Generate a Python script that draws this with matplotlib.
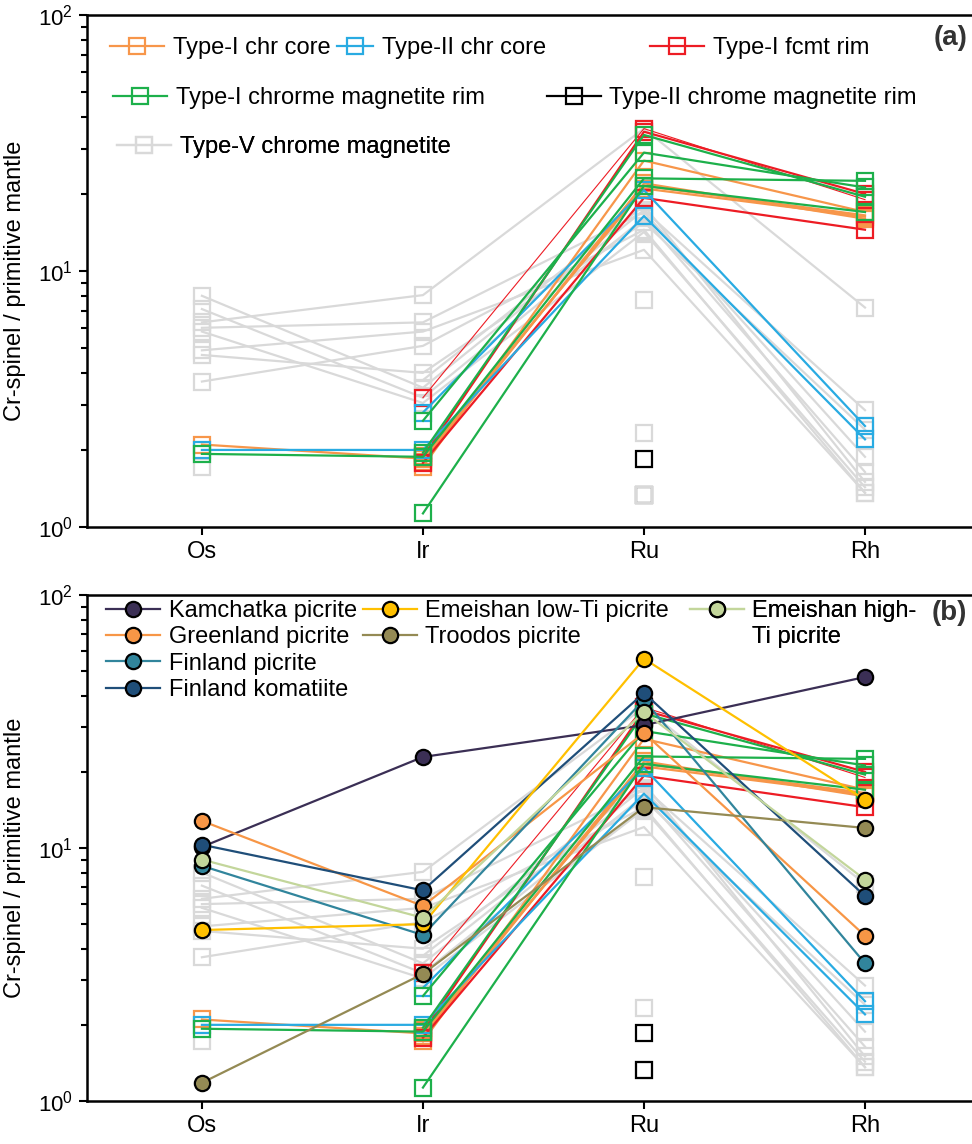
import numpy as np
import matplotlib.pyplot as plt
from matplotlib.lines import Line2D
from matplotlib.ticker import LogLocator, NullFormatter

plt.rcParams['font.family'] = ['Liberation Sans', 'DejaVu Sans']
plt.rcParams['mathtext.default'] = 'regular'

nan = np.nan
elements = ['Os', 'Ir', 'Ru', 'Rh']

# Cr-spinel / primitive mantle, one row per sample, columns follow `elements`
type1_core = [[2.1, 1.85, 21.5, 16.5],
              [nan, 1.72, 27.0, 17.0],
              [nan, 1.80, 22.0, 16.0],
              [nan, 1.90, 21.0, 16.3]]
type2_core = [[2.0, 2.0, 16.4, 2.2],
              [nan, 2.8, 20.7, 2.48]]
type1_fcmt = [[nan, 1.88, 35.0, 20.0],
              [nan, 1.78, 19.3, 14.5],
              [nan, 3.2, 36.0, 19.0]]
type1_cmt = [[1.93, 1.88, 23.0, 22.5],
             [nan, 2.6, 29.0, 21.2],
             [nan, 1.13, 21.5, 17.0],
             [nan, 1.95, 34.0, 19.5]]
type2_cmt = [[nan, nan, 1.85, nan],
             [nan, nan, 1.33, nan]]
type5_cmt = [[8.0, 3.5, 17.3, 2.86],
             [7.1, 3.2, 16.1, 1.64],
             [6.3, 8.05, 36.0, 7.2],
             [6.0, 6.3, 17.0, 1.88],
             [5.8, 3.05, 14.2, 1.43],
             [4.9, 5.8, 12.1, 1.36],
             [4.7, 4.0, 15.5, 2.4],
             [3.7, 5.1, 14.5, 1.36],
             [nan, 3.75, 18.0, 1.5],
             [1.72, nan, 7.7, nan],
             [nan, nan, 2.33, nan],
             [nan, nan, 1.33, nan]]

square_labels = ['Type-I chr core', 'Type-II chr core', 'Type-I fcmt rim',
                 'Type-I chrorme magnetite rim', 'Type-II chrome magnetite rim',
                 'Type-V chrome magnetite']

# whole-rock picrites / komatiites (panel b)
kamchatka = [10.1, 22.9, 30.6, 47.4]
greenland = [12.8, 5.9, 28.5, 4.5]
finland_picrite = [8.5, 4.53, 38.5, 3.5]
finland_komatiite = [10.3, 6.8, 41.0, 6.46]
emeishan_low = [4.74, 5.0, 56.0, 15.5]
troodos = [1.18, 3.18, 14.5, 12.0]
emeishan_high = [9.0, 5.3, 34.5, 7.5]

rock_labels = ['Kamchatka picrite', 'Greenland picrite', 'Finland picrite',
               'Finland komatiite', 'Emeishan low-Ti picrite', 'Troodos picrite',
               'Emeishan high-', 'Ti picrite']

sq_colors = ['#F7964A', '#29ABE2', '#ED1C24', '#1DB04B', '#000000', '#D9D9D9']
rock_colors = ['#3B2F55', '#F79646', '#31859C', '#1F4E79', '#FFC000', '#948A54', '#C3D69B']

x = np.arange(len(elements))
FS = 17


def sq_handle(c):
    return Line2D([], [], color=c, lw=1.6, marker='s', ms=11, mfc='none', mec=c, mew=1.6)


def rock_handle(c):
    if c is None:
        return Line2D([], [], color='none', lw=0)
    return Line2D([], [], color=c, lw=1.6, marker='o', ms=11, mfc=c, mec='black', mew=1.6)


def draw_squares(ax, black_z):
    groups = [type5_cmt, type1_core, type2_core, type1_fcmt, type1_cmt, type2_cmt]
    cols = [sq_colors[5], sq_colors[0], sq_colors[1], sq_colors[2], sq_colors[3], sq_colors[4]]
    zs = [3, 4, 5, 4.5, 6, black_z]
    for rows, c, z in zip(groups, cols, zs):
        for i, r in enumerate(rows):
            lw = 0.8 if (rows is type1_fcmt and i == 2) else 1.6
            ax.plot(x, r, color=c, lw=lw, marker='s', ms=11, mfc='none',
                    mec=c, mew=1.6, zorder=z)


def style_axes(ax):
    ax.set_yscale('log')
    ax.set_ylim(1, 100)
    ax.set_xlim(-0.52, 3.543)
    ax.set_xticks(x)
    ax.set_xticklabels(elements, fontsize=FS)
    ax.yaxis.set_minor_locator(LogLocator(base=10, subs=np.arange(2, 10)))
    ax.yaxis.set_minor_formatter(NullFormatter())
    ax.tick_params(axis='both', which='major', direction='out', length=6, width=1.5,
                   labelsize=FS, pad=4)
    ax.tick_params(axis='y', which='major', labelsize=16)
    ax.tick_params(axis='y', which='minor', direction='out', length=4, width=1.5)
    for s in ax.spines.values():
        s.set_linewidth(1.8)
    ax.set_ylabel('Cr-spinel / primitive mantle', fontsize=17)
    ax.yaxis.set_label_coords(-0.068, 0.48)


fig = plt.figure(figsize=(9.72, 11.44), dpi=100)
ax1 = fig.add_axes([87 / 972, (1144 - 527) / 1144, 898 / 972, 512 / 1144])
ax2 = fig.add_axes([87 / 972, (1144 - 1101) / 1144, 898 / 972, 506 / 1144])

# (a) legend entries placed one by one, the rows are not a regular grid
leg_pos = [(0.0256, 0.935), (0.278, 0.935), (0.627, 0.935),
           (0.029, 0.838), (0.512, 0.838), (0.0334, 0.742)]
leg_hlen = [2.3, 1.55, 2.3, 2.3, 2.3, 2.3]
draw_squares(ax1, black_z=2)
style_axes(ax1)
for lab, c, pos, hl in zip(square_labels, sq_colors, leg_pos, leg_hlen):
    leg = ax1.legend(handles=[sq_handle(c)], labels=[lab], loc='center left',
                     bbox_to_anchor=pos, frameon=False, fontsize=FS, borderpad=0,
                     borderaxespad=0, handlelength=hl, handletextpad=0.35)
    ax1.add_artist(leg)
ax1.text(0.98, 0.955, '(a)', transform=ax1.transAxes, ha='right', va='center',
         fontsize=20, fontweight='bold', color='#333333')

# (b)
draw_squares(ax2, black_z=7)
rocks = [kamchatka, greenland, finland_picrite, finland_komatiite,
         emeishan_low, troodos, emeishan_high]
for r, c in zip(rocks, rock_colors):
    ax2.plot(x, r, color=c, lw=1.6, marker='o', ms=11, mfc=c, mec='black',
             mew=1.6, zorder=8)
style_axes(ax2)
cols_idx = [[0, 1, 2, 3], [4, 5], [6, 7]]
cols_pos = [(0.0212, 0.99), (0.307, 0.99), (0.671, 0.99)]
for idx, pos in zip(cols_idx, cols_pos):
    hs = [rock_handle(rock_colors[i] if i < len(rock_colors) else None) for i in idx]
    leg = ax2.legend(handles=hs, labels=[rock_labels[i] for i in idx], loc='upper left',
                     bbox_to_anchor=pos, frameon=False, fontsize=FS, borderpad=0,
                     borderaxespad=0, handlelength=2.3, handletextpad=0.35,
                     labelspacing=0.18)
    ax2.add_artist(leg)
ax2.text(0.98, 0.965, '(b)', transform=ax2.transAxes, ha='right', va='center',
         fontsize=20, fontweight='bold', color='#333333')

fig.savefig('out.png', dpi=100)
